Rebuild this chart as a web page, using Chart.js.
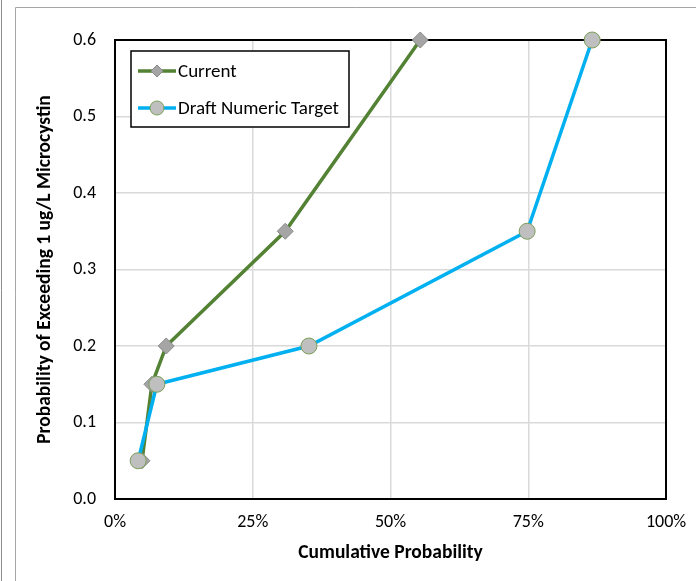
<!DOCTYPE html>
<html>
<head>
<meta charset="utf-8">
<script src="https://cdn.jsdelivr.net/npm/chart.js@4.4.0/dist/chart.umd.min.js"></script>
<style>
  html, body { margin: 0; padding: 0; background: #fff; }
  #wrap { width: 696px; height: 581px; }
</style>
</head>
<body>
<div id="wrap"><canvas id="chart" width="696" height="581"></canvas></div>
<script>
// exceedance probability for each cumulative probability point
const currentLevels = [0.05, 0.15, 0.2, 0.35, 0.6];
const currentCum = [4.9, 6.7, 9.3, 30.9, 55.4];
const draftLevels = [0.05, 0.15, 0.2, 0.35, 0.6];
const draftCum = [4.2, 7.6, 35.2, 74.8, 86.6];
const seriesNames = ["Current", "Draft Numeric Target"];
const xTickValues = [0, 25, 50, 75, 100];
const yTickValues = [0, 0.1, 0.2, 0.3, 0.4, 0.5, 0.6];

const FONT = "Carlito, Lato, sans-serif";

function toPoints(xs, ys) {
  return xs.map((x, i) => ({ x: x, y: ys[i] }));
}

const frame = {
  id: "frame",
  beforeDraw(chart) {
    const ctx = chart.ctx;
    ctx.save();
    ctx.fillStyle = "#fff";
    ctx.fillRect(0, 0, chart.width, chart.height);
    ctx.strokeStyle = "#8c8c8c";
    ctx.lineWidth = 1;
    ctx.beginPath();
    ctx.moveTo(1.5, 0);
    ctx.lineTo(1.5, chart.height);
    ctx.stroke();
    ctx.strokeStyle = "#a6a6a6";
    ctx.beginPath();
    ctx.moveTo(15.5, chart.height);
    ctx.lineTo(15.5, 7.5);
    ctx.lineTo(chart.width, 7.5);
    ctx.stroke();
    ctx.restore();
  },
  beforeDatasetsDraw(chart) {
    const { ctx, chartArea: a } = chart;
    ctx.save();
    ctx.strokeStyle = "#000";
    ctx.lineWidth = 2;
    ctx.strokeRect(a.left, a.top, a.right - a.left, a.bottom - a.top);
    ctx.restore();
  },
  afterDraw(chart) {
    const ctx = chart.ctx;
    const a = chart.chartArea;
    const bx = a.left + 16, by = a.top + 11, bw = 218, bh = 76;
    ctx.save();
    ctx.fillStyle = "#fff";
    ctx.fillRect(bx, by, bw, bh);
    ctx.strokeStyle = "#000";
    ctx.lineWidth = 1.5;
    ctx.strokeRect(bx, by, bw, bh);
    const rows = [by + 20, by + 57];
    chart.data.datasets.slice().sort((p, q) => p.legendRow - q.legendRow).forEach((ds, i) => {
      const y = rows[i];
      const cx = bx + 26;
      ctx.strokeStyle = ds.borderColor;
      ctx.lineWidth = ds.borderWidth;
      ctx.beginPath();
      ctx.moveTo(bx + 7, y);
      ctx.lineTo(bx + 45, y);
      ctx.stroke();
      ctx.fillStyle = ds.pointBackgroundColor;
      ctx.strokeStyle = ds.pointBorderColor;
      ctx.lineWidth = ds.pointBorderWidth;
      ctx.beginPath();
      const r = ds.legendRadius;
      if (ds.pointStyle === "circle") {
        ctx.arc(cx, y, r, 0, Math.PI * 2);
      } else {
        ctx.moveTo(cx, y - r);
        ctx.lineTo(cx + r, y);
        ctx.lineTo(cx, y + r);
        ctx.lineTo(cx - r, y);
        ctx.closePath();
      }
      ctx.fill();
      ctx.stroke();
      ctx.fillStyle = "#000";
      ctx.font = "19px " + FONT;
      ctx.textBaseline = "middle";
      ctx.textAlign = "left";
      ctx.fillText(ds.label, bx + 47, y + 1);
    });
    ctx.restore();
  }
};

new Chart(document.getElementById("chart"), {
  type: "scatter",
  data: {
    datasets: [
      {
        label: seriesNames[1],
        data: toPoints(draftCum, draftLevels),
        showLine: true,
        clip: false,
        borderColor: "#00b0f0",
        borderWidth: 3.5,
        pointStyle: "circle",
        pointRadius: 8,
        legendRadius: 7,
        pointBackgroundColor: "#bfbfbf",
        pointBorderColor: "#7ba05b",
        pointBorderWidth: 1,
        legendRow: 1,
        order: 0
      },
      {
        label: seriesNames[0],
        data: toPoints(currentCum, currentLevels),
        showLine: true,
        clip: false,
        borderColor: "#548235",
        borderWidth: 3.5,
        pointStyle: "rectRot",
        pointRadius: 8,
        legendRadius: 6,
        pointBackgroundColor: "#a5a5a5",
        pointBorderColor: "#8a8a8a",
        pointBorderWidth: 1,
        legendRow: 0,
        order: 1
      }
    ]
  },
  options: {
    responsive: false,
    animation: false,
    layout: { padding: { left: 0, top: 40, right: 30, bottom: 0 } },
    plugins: { legend: { display: false }, tooltip: { enabled: false } },
    scales: {
      x: {
        type: "linear",
        min: 0,
        max: 100,
        afterBuildTicks(scale) { scale.ticks = xTickValues.map(v => ({ value: v })); },
        afterFit(scale) {
          scale.height = 82;
          scale.paddingLeft = 0;
          scale.paddingRight = 0;
        },
        border: { display: false },
        grid: { color: "#d9d9d9", lineWidth: 1.5, drawTicks: false },
        ticks: {
          padding: 13,
          color: "#000",
          font: { family: FONT, size: 18 },
          callback: v => v + "%"
        },
        title: {
          display: true,
          text: "Cumulative Probability",
          color: "#000",
          font: { family: FONT, size: 19.5, weight: "bold" },
          padding: { top: 16, bottom: 16 }
        }
      },
      y: {
        type: "linear",
        min: 0,
        max: 0.6,
        afterBuildTicks(scale) { scale.ticks = yTickValues.map(v => ({ value: v })); },
        afterFit(scale) { scale.width = 115; },
        border: { display: false },
        grid: { color: "#d9d9d9", lineWidth: 1.5, drawTicks: false },
        ticks: {
          padding: 19,
          color: "#000",
          font: { family: FONT, size: 18 },
          callback: v => v.toFixed(1)
        },
        title: {
          display: true,
          text: "Probability of Exceeding 1 ug/L Microcystin",
          color: "#000",
          font: { family: FONT, size: 19.5, weight: "bold" },
          padding: { top: 33, bottom: 33 }
        }
      }
    }
  },
  plugins: [frame]
});
</script>
</body>
</html>
